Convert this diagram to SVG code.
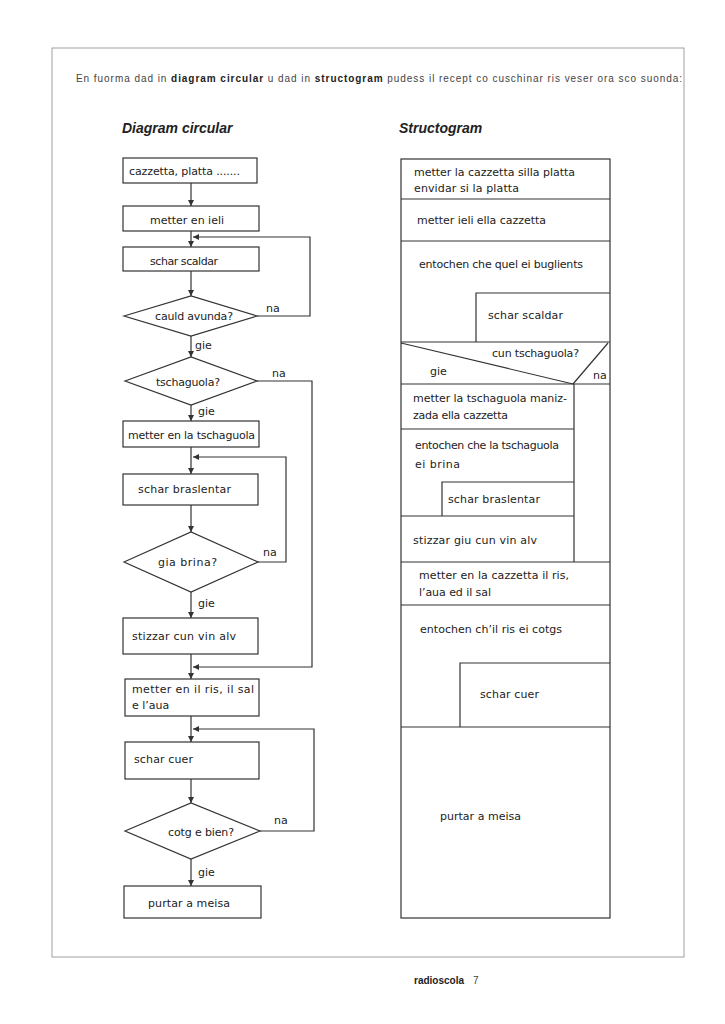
<svg xmlns="http://www.w3.org/2000/svg" width="725" height="1024" viewBox="0 0 725 1024">
<style>
  .frame{fill:none;stroke:#a0a0a0;stroke-width:1}
  .box{fill:#fff;stroke:#333;stroke-width:1.2}
  .ln{fill:none;stroke:#333;stroke-width:1.2}
  .t{font-family:"DejaVu Sans","Liberation Sans",sans-serif;font-size:11px;fill:#222}
  .h{font-family:"Liberation Sans",Arial,sans-serif;font-size:14px;font-weight:bold;font-style:italic;fill:#222}
  .hd{font-family:"Liberation Sans",Arial,sans-serif;font-size:10px;fill:#444}
  .b{font-weight:bold;fill:#222}
</style>
<defs>
  <marker id="ah" viewBox="0 0 10 10" refX="10" refY="5" markerWidth="6" markerHeight="6" markerUnits="userSpaceOnUse" orient="auto">
    <path d="M0,0 L10,5 L0,10 z" fill="#333"/>
  </marker>
</defs>
<rect width="725" height="1024" fill="#fff"/>
<rect class="frame" x="52" y="48" width="632" height="909"/>
<text class="hd" x="76" y="82" textLength="606" lengthAdjust="spacing">En fuorma dad in <tspan class="b">diagram circular</tspan> u dad in <tspan class="b">structogram</tspan> pudess il recept co cuschinar ris veser ora sco suonda:</text>

<text class="h" x="122" y="133">Diagram circular</text>
<text class="h" x="399" y="133">Structogram</text>

<g id="connectors">
  <line class="ln" x1="191" y1="183" x2="191" y2="206" marker-end="url(#ah)"/>
  <line class="ln" x1="191" y1="231" x2="191" y2="247" marker-end="url(#ah)"/>
  <line class="ln" x1="191" y1="271" x2="191" y2="296" marker-end="url(#ah)"/>
  <line class="ln" x1="191" y1="336" x2="191" y2="357" marker-end="url(#ah)"/>
  <line class="ln" x1="191" y1="405" x2="191" y2="421" marker-end="url(#ah)"/>
  <line class="ln" x1="191" y1="447" x2="191" y2="474" marker-end="url(#ah)"/>
  <line class="ln" x1="191" y1="505" x2="191" y2="532" marker-end="url(#ah)"/>
  <line class="ln" x1="191" y1="592" x2="191" y2="618" marker-end="url(#ah)"/>
  <line class="ln" x1="191" y1="654" x2="191" y2="679" marker-end="url(#ah)"/>
  <line class="ln" x1="191" y1="716" x2="191" y2="742" marker-end="url(#ah)"/>
  <line class="ln" x1="191" y1="779" x2="191" y2="803" marker-end="url(#ah)"/>
  <line class="ln" x1="191" y1="859" x2="191" y2="886" marker-end="url(#ah)"/>
  <polyline class="ln" points="257,316 310,316 310,237 193,237" marker-end="url(#ah)"/>
  <polyline class="ln" points="257,381 312,381 312,667 193,667" marker-end="url(#ah)"/>
  <polyline class="ln" points="258,562 286,562 286,457 193,457" marker-end="url(#ah)"/>
  <polyline class="ln" points="260,831 314,831 314,729 193,729" marker-end="url(#ah)"/>
  <text class="t" x="266" y="312">na</text>
  <text class="t" x="195" y="349">gie</text>
  <text class="t" x="272" y="377">na</text>
  <text class="t" x="198" y="415">gie</text>
  <text class="t" x="263" y="556">na</text>
  <text class="t" x="198" y="607">gie</text>
  <text class="t" x="274" y="824">na</text>
  <text class="t" x="198" y="876">gie</text>
</g>

<g id="n1"><rect class="box" x="123" y="158" width="134" height="25"/><text class="t" x="129" y="175" textLength="111" lengthAdjust="spacing">cazzetta, platta .......</text></g>
<g id="n2"><rect class="box" x="123" y="206" width="136" height="25"/><text class="t" x="150" y="224" textLength="74" lengthAdjust="spacing">metter en ieli</text></g>
<g id="n3"><rect class="box" x="123" y="247" width="136" height="24"/><text class="t" x="150" y="265" textLength="68" lengthAdjust="spacing">schar scaldar</text></g>
<g id="n4"><polygon class="box" points="124,316 191,296 257,316 191,336"/><text class="t" x="155" y="320" textLength="78" lengthAdjust="spacing">cauld avunda?</text></g>
<g id="n5"><polygon class="box" points="125,381 191,357 257,381 191,405"/><text class="t" x="156" y="386" textLength="64" lengthAdjust="spacing">tschaguola?</text></g>
<g id="n6"><rect class="box" x="123" y="421" width="136" height="26"/><text class="t" x="128" y="439" textLength="127" lengthAdjust="spacing">metter en la tschaguola</text></g>
<g id="n7"><rect class="box" x="123" y="474" width="135" height="31"/><text class="t" x="138" y="493" textLength="93" lengthAdjust="spacing">schar braslentar</text></g>
<g id="n8"><polygon class="box" points="124,562 191,532 258,562 191,592"/><text class="t" x="158" y="566" textLength="59" lengthAdjust="spacing">gia brina?</text></g>
<g id="n9"><rect class="box" x="123" y="618" width="135" height="36"/><text class="t" x="132" y="640" textLength="104" lengthAdjust="spacing">stizzar cun vin alv</text></g>
<g id="n10"><rect class="box" x="125" y="679" width="134" height="37"/><text class="t" x="132" y="693" textLength="122" lengthAdjust="spacing">metter en il ris, il sal</text><text class="t" x="132" y="709">e l’aua</text></g>
<g id="n11"><rect class="box" x="125" y="742" width="134" height="37"/><text class="t" x="134" y="763" textLength="59" lengthAdjust="spacing">schar cuer</text></g>
<g id="n12"><polygon class="box" points="125,831 191,803 260,831 191,859"/><text class="t" x="168" y="836" textLength="66" lengthAdjust="spacing">cotg e bien?</text></g>
<g id="n13"><rect class="box" x="124" y="886" width="137" height="32"/><text class="t" x="148" y="907" textLength="82" lengthAdjust="spacing">purtar a meisa</text></g>

<g id="structogram">
  <rect class="box" x="401" y="159" width="209" height="759"/>
  <g id="s1"><line class="ln" x1="401" y1="199" x2="610" y2="199"/>
    <text class="t" x="414" y="176" textLength="161" lengthAdjust="spacing">metter la cazzetta silla platta</text>
    <text class="t" x="414" y="192" textLength="105" lengthAdjust="spacing">envidar si la platta</text></g>
  <g id="s2"><line class="ln" x1="401" y1="241" x2="610" y2="241"/>
    <text class="t" x="417" y="224" textLength="129" lengthAdjust="spacing">metter ieli ella cazzetta</text></g>
  <g id="s3"><text class="t" x="419" y="268" textLength="164" lengthAdjust="spacing">entochen che quel ei buglients</text>
    <polyline class="ln" points="476,342 476,293 610,293"/>
    <text class="t" x="488" y="319" textLength="75" lengthAdjust="spacing">schar scaldar</text></g>
  <g id="s4"><line class="ln" x1="401" y1="342" x2="610" y2="342"/>
    <line class="ln" x1="401" y1="343" x2="573" y2="384"/>
    <line class="ln" x1="573" y1="384" x2="608" y2="343"/>
    <line class="ln" x1="401" y1="384" x2="610" y2="384"/>
    <line class="ln" x1="574" y1="384" x2="574" y2="562"/>
    <text class="t" x="492" y="357" textLength="87" lengthAdjust="spacing">cun tschaguola?</text>
    <text class="t" x="430" y="375">gie</text>
    <text class="t" x="593" y="379">na</text></g>
  <g id="s5"><line class="ln" x1="401" y1="429" x2="574" y2="429"/>
    <text class="t" x="413" y="402" textLength="154" lengthAdjust="spacing">metter la tschaguola maniz-</text>
    <text class="t" x="413" y="419" textLength="95" lengthAdjust="spacing">zada ella cazzetta</text></g>
  <g id="s6"><text class="t" x="415" y="449" textLength="144" lengthAdjust="spacing">entochen che la tschaguola</text>
    <text class="t" x="415" y="468" textLength="45" lengthAdjust="spacing">ei brina</text>
    <polyline class="ln" points="442,516 442,482 574,482"/>
    <text class="t" x="448" y="503" textLength="92" lengthAdjust="spacing">schar braslentar</text>
    <line class="ln" x1="401" y1="516" x2="574" y2="516"/></g>
  <g id="s7"><text class="t" x="413" y="544" textLength="124" lengthAdjust="spacing">stizzar giu cun vin alv</text>
    <line class="ln" x1="401" y1="562" x2="610" y2="562"/></g>
  <g id="s8"><text class="t" x="419" y="579" textLength="150" lengthAdjust="spacing">metter en la cazzetta il ris,</text>
    <text class="t" x="419" y="596" textLength="72" lengthAdjust="spacing">l’aua ed il sal</text>
    <line class="ln" x1="401" y1="605" x2="610" y2="605"/></g>
  <g id="s9"><text class="t" x="420" y="633" textLength="142" lengthAdjust="spacing">entochen ch’il ris ei cotgs</text>
    <polyline class="ln" points="460,727 460,663 610,663"/>
    <text class="t" x="480" y="698" textLength="59" lengthAdjust="spacing">schar cuer</text>
    <line class="ln" x1="401" y1="727" x2="610" y2="727"/></g>
  <g id="s10"><text class="t" x="440" y="820" textLength="81" lengthAdjust="spacing">purtar a meisa</text></g>
</g>

<text class="hd" x="414" y="984"><tspan class="b">radioscola</tspan><tspan x="473">7</tspan></text>
</svg>
